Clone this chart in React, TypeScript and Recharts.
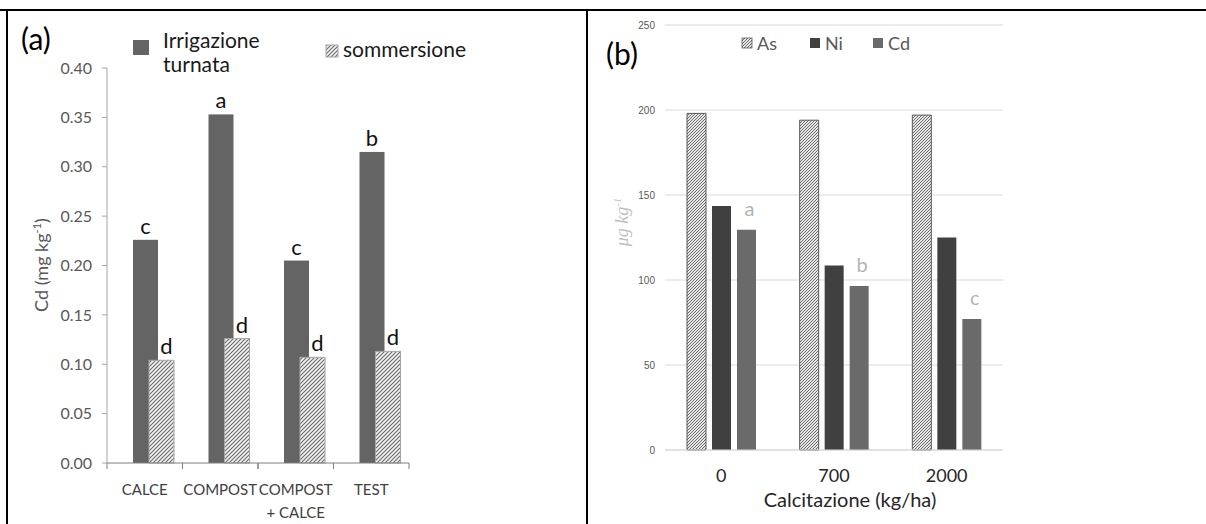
import React from "react";
import { Bar, BarChart, CartesianGrid, LabelList, XAxis, YAxis } from "recharts";

// panel (a): Cd in rice grain, two irrigation regimes
const treatments = ["CALCE", "COMPOST", "COMPOST\n+ CALCE", "TEST"];
const irrigazioneTurnata = [0.226, 0.353, 0.205, 0.315];
const sommersione = [0.104, 0.126, 0.107, 0.113];
const lettersTurnata = ["c", "a", "c", "b"];
const lettersSommersione = ["d", "d", "d", "d"];
const ticksA = [0, 0.05, 0.1, 0.15, 0.2, 0.25, 0.3, 0.35, 0.4];

// panel (b): metals vs liming dose
const doses = ["0", "700", "2000"];
const asValues = [198, 194, 197];
const niValues = [143.5, 108.5, 125];
const cdValues = [129.5, 96.5, 77];
const lettersCd = ["a", "b", "c"];
const ticksB = [0, 50, 100, 150, 200, 250];

const dataA = treatments.map((name, i) => ({
  name,
  turnata: irrigazioneTurnata[i],
  sommersione: sommersione[i],
  lt: lettersTurnata[i],
  ls: lettersSommersione[i],
}));

const dataB = doses.map((name, i) => ({
  name,
  As: asValues[i],
  Ni: niValues[i],
  Cd: cdValues[i],
  lc: lettersCd[i],
}));

const FONT = "Lato, 'Open Sans', sans-serif";
const SHIFT_A = 9; // Excel group sits right of the category centre

const DarkBarA = (p: any) => (
  <rect x={p.x + SHIFT_A} y={p.y} width={p.width} height={p.height} fill="#646464" />
);
const HatchBarA = (p: any) => (
  <rect
    x={p.x + SHIFT_A}
    y={p.y}
    width={p.width}
    height={p.height}
    fill="url(#hatchA)"
    stroke="#a6a6a6"
    strokeWidth={1}
  />
);

const letterA = (dx: number) => (p: any) => (
  <text
    x={p.x + p.width / 2 + SHIFT_A + dx}
    y={p.y - 6}
    textAnchor="middle"
    fontSize={22}
    fontFamily={FONT}
    fill="#111"
  >
    {p.value}
  </text>
);

const letterB = (p: any) => (
  <text
    x={p.x + p.width / 2 + 3}
    y={p.y - 14}
    textAnchor="middle"
    fontSize={20}
    fontFamily={FONT}
    fill="#b3b3b3"
  >
    {p.value}
  </text>
);

const TickA = (props: any) => {
  const { x, y, payload } = props;
  const half = payload && payload.offset ? payload.offset : 37.75;
  const lines = String(payload.value).split("\n");
  return (
    <g>
      <line x1={x - half} x2={x - half} y1={y} y2={y + 6} stroke="#7f7f7f" />
      <line x1={x + half} x2={x + half} y1={y} y2={y + 6} stroke="#7f7f7f" />
      {lines.map((l, i) => (
        <text
          key={i}
          x={x}
          y={y + 32 + i * 23}
          textAnchor="middle"
          fontSize={15}
          fontFamily={FONT}
          fill="#404040"
        >
          {l}
        </text>
      ))}
    </g>
  );
};

const TickB = (props: any) => {
  const { x, y, payload } = props;
  return (
    <text x={x} y={y + 32} textAnchor="middle" fontSize={18} fontFamily={FONT} fill="#262626">
      {payload.value}
    </text>
  );
};

const legendB = [
  { name: "As", fill: "url(#hatchB)", stroke: "#595959", x: 742 },
  { name: "Ni", fill: "#404040", stroke: "none", x: 810 },
  { name: "Cd", fill: "#6a6a6a", stroke: "none", x: 873 },
];

export default function App() {
  return (
    <div
      style={{
        position: "absolute",
        left: 0,
        top: 0,
        width: 1206,
        height: 524,
        background: "#fff",
        fontFamily: FONT,
        overflow: "hidden",
      }}
    >
      <svg width={0} height={0} style={{ position: "absolute" }}>
        <defs>
          <pattern id="hatchA" patternUnits="userSpaceOnUse" width={4} height={4}>
            <rect width={4} height={4} fill="#f4f4f4" />
            <path d="M-1,1 l2,-2 M0,4 l4,-4 M3,5 l2,-2" stroke="#6e6e6e" strokeWidth={1.2} />
          </pattern>
          <pattern id="hatchB" patternUnits="userSpaceOnUse" width={3} height={3}>
            <rect width={3} height={3} fill="#e8e8e8" />
            <path d="M-1,1 l2,-2 M0,3 l3,-3 M2,4 l2,-2" stroke="#5a5a5a" strokeWidth={0.9} />
          </pattern>
        </defs>
      </svg>

      <div style={{ position: "absolute", left: 0, top: 0 }}>
        <BarChart
          width={587}
          height={524}
          data={dataA}
          barGap={-9}
          margin={{ top: 68, right: 178, bottom: 11, left: 47 }}
        >
          <XAxis
            dataKey="name"
            height={50}
            tick={<TickA />}
            tickLine={false}
            tickSize={0}
            tickMargin={0}
            axisLine={{ stroke: "#7f7f7f" }}
            interval={0}
          />
          <YAxis
            width={60}
            domain={[0, 0.4]}
            ticks={ticksA}
            tickFormatter={(v: number) => v.toFixed(2)}
            tickSize={5}
            tickMargin={10}
            tickLine={{ stroke: "#a6a6a6" }}
            axisLine={{ stroke: "#a6a6a6" }}
            tick={{ fontSize: 16, fill: "#595959", fontFamily: FONT }}
          />
          <Bar dataKey="turnata" barSize={25} shape={DarkBarA} isAnimationActive={false}>
            <LabelList dataKey="lt" content={letterA(0)} />
          </Bar>
          <Bar dataKey="sommersione" barSize={25} shape={HatchBarA} isAnimationActive={false}>
            <LabelList dataKey="ls" content={letterA(5)} />
          </Bar>
        </BarChart>
      </div>

      <div style={{ position: "absolute", left: 587, top: 0 }}>
        <BarChart
          width={619}
          height={524}
          data={dataB}
          barGap={6}
          margin={{ top: 25, right: 203, bottom: 34, left: 28 }}
        >
          <CartesianGrid vertical={false} stroke="#d9d9d9" />
          <XAxis
            dataKey="name"
            height={40}
            tick={<TickB />}
            tickLine={false}
            tickSize={0}
            tickMargin={0}
            axisLine={{ stroke: "#d9d9d9" }}
          />
          <YAxis
            width={50}
            domain={[0, 250]}
            ticks={ticksB}
            tickSize={0}
            tickMargin={10}
            tickLine={false}
            axisLine={false}
            tick={{ fontSize: 10, fill: "#595959", fontFamily: "'Liberation Sans', sans-serif" }}
          />
          <Bar dataKey="As" barSize={19} fill="url(#hatchB)" stroke="#595959" strokeWidth={1} isAnimationActive={false} />
          <Bar dataKey="Ni" barSize={19} fill="#404040" isAnimationActive={false} />
          <Bar dataKey="Cd" barSize={19} fill="#6a6a6a" isAnimationActive={false}>
            <LabelList dataKey="lc" content={letterB} />
          </Bar>
        </BarChart>
      </div>

      <svg
        width={1206}
        height={524}
        style={{ position: "absolute", left: 0, top: 0, pointerEvents: "none" }}
        fontFamily={FONT}
      >
        {/* frame */}
        <line x1={0} x2={1206} y1={10} y2={10} stroke="#000" strokeWidth={2} />
        <line x1={7} x2={7} y1={9} y2={524} stroke="#000" strokeWidth={2} />
        <line x1={587} x2={587} y1={9} y2={524} stroke="#000" strokeWidth={2} />

        {/* panel (a) */}
        <text x={21} y={50} fontSize={30} fill="#000">(a)</text>
        <rect x={133} y={40} width={16} height={15} fill="#646464" />
        <text x={163} y={48} fontSize={21} fill="#1a1a1a">Irrigazione</text>
        <text x={163} y={72} fontSize={21} fill="#1a1a1a">turnata</text>
        <rect x={326} y={45} width={12} height={12} fill="url(#hatchA)" stroke="#a6a6a6" />
        <text x={343} y={57} fontSize={21} fill="#1a1a1a">sommersione</text>
        <text
          transform="translate(48,265) rotate(-90)"
          textAnchor="middle"
          fontSize={18}
          fill="#595959"
        >
          Cd (mg kg<tspan fontSize={11} dy={-7}>-1</tspan><tspan dy={7}>)</tspan>
        </text>

        {/* panel (b) */}
        <text x={606} y={65} fontSize={30} fill="#000">(b)</text>
        {legendB.map((l) => (
          <g key={l.name}>
            <rect x={l.x} y={38} width={10} height={10} fill={l.fill} stroke={l.stroke} strokeWidth={0.8} />
            <text x={l.x + 15} y={50} fontSize={18} fill="#595959">{l.name}</text>
          </g>
        ))}
        <text
          transform="translate(628,222) rotate(-90)"
          textAnchor="middle"
          fontSize={18}
          fontStyle="italic"
          fontFamily="'Liberation Serif', serif"
          fill="#bfbfbf"
        >
          μg kg<tspan fontSize={11} dy={-7}>-1</tspan>
        </text>
        <text x={850} y={507} textAnchor="middle" fontSize={20} fill="#262626">
          Calcitazione (kg/ha)
        </text>
      </svg>
    </div>
  );
}
